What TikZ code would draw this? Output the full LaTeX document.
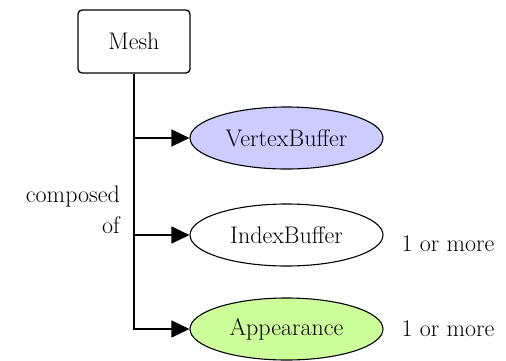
\documentclass[tikz,border=0pt]{standalone}
\usetikzlibrary{arrows.meta,shapes.geometric}
\definecolor{vbfill}{HTML}{CCCCFF}
\definecolor{apfill}{HTML}{CCFF99}
\tikzset{
  txt/.style={font=\fontsize{24}{28}\selectfont},
  meshbox/.style={draw, line width=1.3pt, rounded corners=4pt, minimum width=112pt, minimum height=63pt, txt},
  part/.style={draw, ellipse, line width=1.1pt, minimum width=193pt, minimum height=62pt, inner sep=0pt, txt},
  link/.style={line width=1.3pt},
  feed/.style={link, -{Triangle[length=18pt,width=17pt]}},
}
\begin{document}
\begin{tikzpicture}[x=1pt,y=-1pt]
  \useasboundingbox (0,0) rectangle (506,360);
  % top box and the three parts it is made of
  \node[meshbox] (mesh) at (134,41.5) {Mesh};
  \node[part, fill=vbfill] (vb) at (286.5,138) {VertexBuffer};
  \node[part, fill=white] (ib) at (286.5,235) {IndexBuffer};
  \node[part, fill=apfill] (ap) at (286.5,329) {Appearance};
  % multiplicity labels
  \node[txt, anchor=west] (ibn) at (398,244) {1 or more};
  \node[txt, anchor=west] (apn) at (398,329) {1 or more};
  % label beside the trunk
  \node[txt, anchor=base east, inner sep=0pt] (lab1) at (120,202) {composed};
  \node[txt, anchor=base east, inner sep=0pt] (lab2) at (120,233) {of};
  % trunk and branches
  \draw[feed] (mesh.south) |- (ap.west);
  \draw[feed] (vb.west -| mesh.south) -- (vb.west);
  \draw[feed] (ib.west -| mesh.south) -- (ib.west);
\end{tikzpicture}
\end{document}
